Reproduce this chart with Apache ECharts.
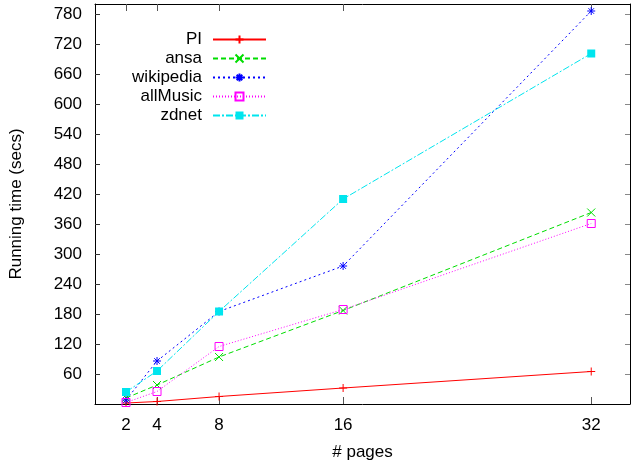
<!DOCTYPE html>
<html>
<head>
<meta charset="utf-8">
<script src="https://cdn.jsdelivr.net/npm/echarts@6/dist/echarts.min.js"></script>
<style>
  html, body { margin: 0; padding: 0; background: #fff; }
  #chart { width: 631px; height: 466px; }
</style>
</head>
<body>
<div id="chart"></div>
<script>
// Running time vs number of pages for each site
const pages = [2, 4, 8, 16, 32];
const xTicks = [2, 4, 8, 16, 32];
const yTicks = [60, 120, 180, 240, 300, 360, 420, 480, 540, 600, 660, 720, 780];

const piTimes        = [2, 5, 15, 32, 65];
const ansaTimes      = [12, 38, 94, 187, 383];
const wikipediaTimes = [8, 86, 185, 276, 786];
const allMusicTimes  = [3, 25, 115, 189, 361];
const zdnetTimes     = [24, 66, 185, 410, 701];

const FONT = '"Liberation Sans", Arial, Helvetica, sans-serif';

const SYM_PLUS = 'path://M0,5L10,5M5,0L5,10';
const SYM_CROSS = 'path://M0,0L10,10M10,0L0,10';
const SYM_STAR = 'path://M0,5L10,5M5,0L5,10M1.5,1.5L8.5,8.5M8.5,1.5L1.5,8.5';
const SYM_BOX = 'path://M0,0L10,0L10,10L0,10Z';

function pairs(ys) {
  return pages.map((p, i) => [p, ys[i]]);
}

function lineSeries(name, ys, color, dash, symbol, size, filled) {
  return {
    name: name,
    type: 'line',
    data: pairs(ys),
    symbol: symbol,
    symbolSize: size,
    showAllSymbol: true,
    lineStyle: { color: color, width: 1, type: dash },
    itemStyle: filled
      ? { color: color, borderWidth: 0 }
      : { color: 'rgba(0,0,0,0)', borderColor: color, borderWidth: 1 },
    emphasis: { disabled: true },
    z: 3
  };
}

const chart = echarts.init(document.getElementById('chart'), null, { renderer: 'canvas' });

const axisText = { color: '#000', fontSize: 17, fontFamily: FONT };

chart.setOption({
  animation: false,
  backgroundColor: '#fff',
  grid: { left: 91, right: 1, top: 4, bottom: 62, show: false },
  legend: {
    orient: 'vertical',
    right: 364,
    top: 30,
    padding: 0,
    align: 'right',
    itemWidth: 53,
    itemHeight: 10,
    itemGap: 0,
    selectedMode: false,
    textStyle: { fontSize: 17, fontFamily: FONT, color: '#000', lineHeight: 19, padding: [0, 6, 0, 0] },
    data: ['PI', 'ansa', 'wikipedia', 'allMusic', 'zdnet']
  },
  xAxis: [
    {
      type: 'value',
      min: 0,
      max: 34.5,
      name: '# pages',
      nameLocation: 'middle',
      nameGap: 40,
      nameTextStyle: axisText,
      axisLine: { show: true, onZero: false, lineStyle: { color: '#000', width: 1 } },
      axisTick: { show: true, inside: true, length: 7, customValues: xTicks, lineStyle: { color: '#555' } },
      axisLabel: { customValues: xTicks, margin: 13, ...axisText },
      splitLine: { show: false }
    },
    {
      type: 'value',
      position: 'top',
      min: 0,
      max: 34.5,
      axisLine: { show: true, onZero: false, lineStyle: { color: '#000', width: 1 } },
      axisTick: { show: true, inside: true, length: 7, customValues: xTicks, lineStyle: { color: '#555' } },
      axisLabel: { show: false },
      splitLine: { show: false }
    }
  ],
  yAxis: [
    {
      type: 'value',
      min: 0,
      max: 800,
      name: 'Running time (secs)',
      nameLocation: 'middle',
      nameGap: 70,
      nameTextStyle: axisText,
      axisLine: { show: true, onZero: false, lineStyle: { color: '#000', width: 1 } },
      axisTick: { show: true, inside: true, length: 5, customValues: yTicks, lineStyle: { color: '#333' } },
      axisLabel: { customValues: yTicks, margin: 13, ...axisText },
      splitLine: { show: false }
    },
    {
      type: 'value',
      position: 'right',
      min: 0,
      max: 800,
      axisLine: { show: true, onZero: false, lineStyle: { color: '#000', width: 1 } },
      axisTick: { show: true, inside: true, length: 5, customValues: yTicks, lineStyle: { color: '#888' } },
      axisLabel: { show: false },
      splitLine: { show: false }
    }
  ],
  series: [
    lineSeries('PI', piTimes, '#ff0000', 'solid', SYM_PLUS, 8, false),
    lineSeries('ansa', ansaTimes, '#00dd00', [5, 3], SYM_CROSS, 8, false),
    lineSeries('wikipedia', wikipediaTimes, '#0000ff', [2, 3], SYM_STAR, 8, false),
    lineSeries('allMusic', allMusicTimes, '#ff00ff', [1, 2], SYM_BOX, 8, false),
    lineSeries('zdnet', zdnetTimes, '#00e5ee', [7, 2, 2, 2], 'rect', 8, true)
  ]
});
</script>
</body>
</html>
